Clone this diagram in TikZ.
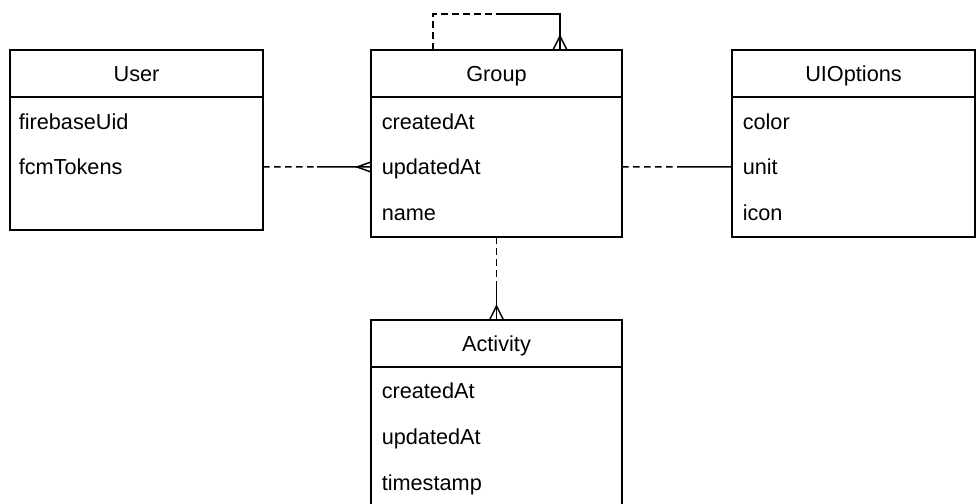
\documentclass[tikz,border=0pt]{standalone}
\usepackage{fontspec}
\setmainfont{Liberation Sans}
\usetikzlibrary{positioning,calc}

\tikzset{
	head/.style={draw, inner sep=0pt, outer sep=0pt, minimum height=47bp, text height=15.7bp, text depth=0pt},
	body/.style={draw, inner sep=0pt, outer sep=0pt},
	attr/.style={anchor=west, inner sep=0pt, text height=15.7bp, text depth=0pt},
	loose/.style={dash pattern=on 6.5bp off 4.5bp}
}

\begin{document}
\begin{tikzpicture}[x=1bp, y=-1bp, line width=1.5bp, font=\fontsize{21.7bp}{26bp}\selectfont]
	\useasboundingbox (0,0) rectangle (976,504);

	% entities
	\node[head, minimum width=253bp] (user) at (136.5,73.5) {User};
	\node[body, minimum width=253bp, minimum height=133bp, below=0pt of user] (userbody) {};
	\node[head, minimum width=251bp] (group) at (496.5,73.5) {Group};
	\node[body, minimum width=251bp, minimum height=140bp, below=0pt of group] (groupbody) {};
	\node[head, minimum width=243bp] (uioptions) at (853.5,73.5) {UIOptions};
	\node[body, minimum width=243bp, minimum height=140bp, below=0pt of uioptions] (uibody) {};
	\node[head, minimum width=251bp] (activity) at (496.5,343.5) {Activity};
	\node[body, minimum width=251bp, minimum height=139bp, below=0pt of activity] (activitybody) {};

	% attributes
	\node[attr] (firebaseuid) at (18,122) {firebaseUid};
	\node[attr] (fcmtokens) at (18,167) {fcmTokens};
	\node[attr] (gcreated) at (381,122) {createdAt};
	\node[attr] (gupdated) at (381,167) {updatedAt};
	\node[attr] (gname) at (381,213) {name};
	\node[attr] (color) at (742,122) {color};
	\node[attr] (unit) at (742,167) {unit};
	\node[attr] (icon) at (742,213) {icon};
	\node[attr] (acreated) at (381,391) {createdAt};
	\node[attr] (aupdated) at (381,437) {updatedAt};
	\node[attr] (timestamp) at (381,483) {timestamp};

	% user -- group
	\coordinate (ug) at ($(userbody.east |- gupdated)!.5!(groupbody.west |- gupdated)$);
	\draw[loose] (userbody.east |- gupdated) -- (ug);
	\draw (ug) -- (groupbody.west |- gupdated);
	\draw ($(groupbody.west |- gupdated)+(0,-5)$) -- ++(-14,5) -- ++(14,5);

	% group -- uioptions
	\coordinate (gu) at ($(groupbody.east |- unit)!.5!(uibody.west |- unit)$);
	\draw[loose] (groupbody.east |- unit) -- (gu);
	\draw (gu) -- (uibody.west |- unit);

	% group -- group
	\draw[loose] ($(group.north west)+(62,0)$) -- ++(0,-36) -- ++(64,0) coordinate (gg);
	\draw (gg) -- ++(63,0) -- ++(0,36) coordinate (ggend);
	\draw ($(ggend)+(-7,0)$) -- ++(7,-14) -- ++(7,14);

	% group -- activity
	\coordinate (ga) at ($(groupbody.south)+(0,48)$);
	\draw[loose] (groupbody.south) -- (ga);
	\draw (ga) -- (activity.north);
	\draw ($(activity.north)+(-7,0)$) -- ++(7,-14) -- ++(7,14);
\end{tikzpicture}
\end{document}
